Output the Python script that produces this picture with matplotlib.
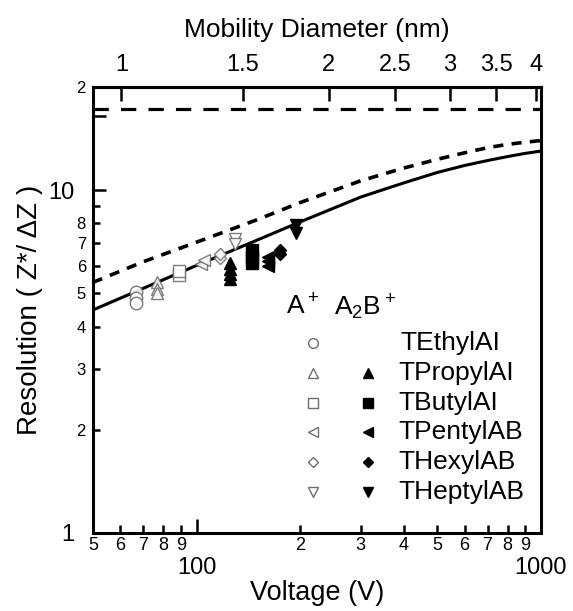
import numpy as np
import matplotlib.pyplot as plt
from matplotlib.ticker import FixedLocator, FixedFormatter

plt.rcParams['font.family'] = ['Liberation Sans', 'DejaVu Sans']
plt.rcParams['mathtext.fontset'] = 'custom'
plt.rcParams['mathtext.rm'] = 'Liberation Sans'

# theoretical curves
curve_v = [50, 70, 100, 150, 200, 300, 400, 500, 600, 700, 800, 900, 1000]
solid_r = [4.47, 5.17, 6.03, 7.15, 8.08, 9.55, 10.5, 11.26, 11.8, 12.2, 12.53, 12.8, 13.0]
dotted_r = [5.38, 6.18, 7.05, 8.2, 9.2, 10.65, 11.6, 12.3, 12.85, 13.3, 13.6, 13.8, 13.95]
limit_r = 17.3

# measured points: A+ (open) and A2B+ (filled)
names = ["TEthylAI", "TPropylAI", "TButylAI", "TPentylAB", "THexylAB", "THeptylAB"]
markers = ["o", "^", "s", "<", "D", "v"]
mono_v = [[66.7, 66.7, 66.7], [77, 77, 77], [89, 89], [103, 105], [117, 117], [129, 129]]
mono_r = [[5.05, 4.85, 4.68], [5.38, 5.15, 5.0], [5.65, 5.8], [6.1, 6.25], [6.35, 6.5], [7.2, 6.95]]
dim_v = [[], [125, 125, 125, 125], [145, 145, 145], [161, 161, 161], [175, 175], [195, 195]]
dim_r = [[], [6.15, 5.9, 5.7, 5.5], [6.7, 6.4, 6.15], [6.4, 6.2, 6.0], [6.7, 6.5], [7.9, 7.5]]

# top axis: mobility diameter
d_ticks = [1, 1.5, 2, 2.5, 3, 3.5, 4]
v_per_d2 = 60.5

fig = plt.figure(figsize=(5.73, 6.11), dpi=100)
ax = fig.add_axes([0.162, 0.1277, 0.782, 0.73])

ax.plot(curve_v, solid_r, color="black", lw=2.2)
ax.plot(curve_v, dotted_r, color="black", lw=2.6, dashes=(2.8, 2.3))
ax.axhline(limit_r, color="black", lw=2.3, dashes=(4.8, 3.8))

gray = "#6e6e6e"
sizes = {"o": 9, "^": 8, "s": 8, "<": 8, "D": 6, "v": 8}
for mk, vv, rr in zip(markers, mono_v, mono_r):
    ax.plot(vv, rr, mk, ls="none", ms=sizes[mk], mfc="white", mec=gray, mew=1.0, alpha=0.9)
for mk, vv, rr in zip(markers, dim_v, dim_r):
    if vv:
        ax.plot(vv, rr, mk, ls="none", ms=sizes[mk], color="black")

# legend built by hand (two marker columns)
ax.text(0.469, 0.507, r"$\mathregular{A^+}$", transform=ax.transAxes,
        fontsize=19, ha="center", va="center")
ax.text(0.607, 0.507, r"$\mathregular{A_2B^+}$", transform=ax.transAxes,
        fontsize=19, ha="center", va="center")
for i, (name, mk) in enumerate(zip(names, markers)):
    y = 0.426 - i * 0.0668
    ms = 5 if mk == "D" else 7
    ax.plot(0.491, y, mk, ms=ms, mfc="white", mec=gray, mew=1.0, transform=ax.transAxes)
    if dim_v[i]:
        ax.plot(0.614, y, mk, ms=ms, color="black", transform=ax.transAxes)
    ax.text(0.686 if i == 0 else 0.681, y, name, transform=ax.transAxes, fontsize=19,
            ha="left", va="center")

ax.set_xscale("log")
ax.set_yscale("log")
ax.set_xlim(50, 1000)
ax.set_ylim(1, 20)

ax.xaxis.set_major_locator(FixedLocator([100, 1000]))
ax.xaxis.set_major_formatter(FixedFormatter(["100", "1000"]))
ax.xaxis.set_minor_locator(FixedLocator([50, 60, 70, 80, 90, 200, 300, 400, 500, 600, 700, 800, 900]))
ax.xaxis.set_minor_formatter(FixedFormatter(["5", "6", "7", "8", "9", "2", "3", "4", "5", "6", "7", "8", "9"]))
ax.yaxis.set_major_locator(FixedLocator([1, 10, 16.5]))
ax.yaxis.set_major_formatter(FixedFormatter(["1", "10", ""]))
ax.yaxis.set_minor_locator(FixedLocator([2, 3, 4, 5, 6, 7, 8, 9, 20]))
ax.yaxis.set_minor_formatter(FixedFormatter(["2", "3", "4", "5", "6", "7", "8", "", "2"]))

ax.tick_params(which="both", direction="in", width=1.8, top=False, right=False)
ax.tick_params(axis="x", which="major", length=10, labelsize=17, pad=17)
ax.tick_params(axis="x", which="minor", length=6, labelsize=13, pad=3)
ax.tick_params(axis="y", which="major", length=9, labelsize=17, pad=13)
ax.tick_params(axis="y", which="minor", length=5, labelsize=12, pad=5)
for sp in ax.spines.values():
    sp.set_linewidth(2.2)

ax.set_xlabel("Voltage (V)", fontsize=19.5, labelpad=1)
ax.set_ylabel("Resolution ( Z*/ \u0394Z )", fontsize=20, labelpad=4)

top = ax.secondary_xaxis("top", functions=(lambda v: np.sqrt(np.clip(v, 1e-9, None) / v_per_d2),
                                           lambda d: v_per_d2 * np.asarray(d) ** 2))
top.set_xticks(d_ticks)
top.set_xticklabels(["1", "1.5", "2", "2.5", "3", "3.5", "4"])
top.xaxis.set_minor_locator(FixedLocator([]))
top.tick_params(direction="in", length=10, width=1.8, labelsize=17, pad=8)
top.spines["top"].set_linewidth(2.2)
top.set_xlabel("Mobility Diameter (nm)", fontsize=19, labelpad=12)

fig.savefig("out.png", dpi=100)
